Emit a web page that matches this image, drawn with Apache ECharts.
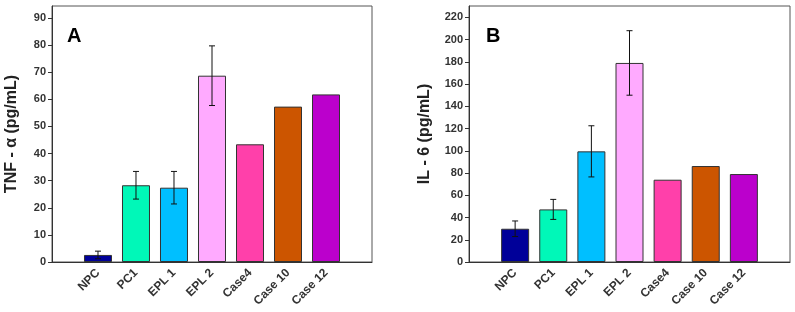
<!DOCTYPE html>
<html>
<head>
<meta charset="utf-8">
<script src="https://cdn.jsdelivr.net/npm/echarts@6/dist/echarts.min.js"></script>
<style>
  html, body { margin: 0; padding: 0; background: #fff; }
  #main { width: 795px; height: 312px; }
</style>
</head>
<body>
<div id="main"></div>
<script>
var categories = ['NPC', 'PC1', 'EPL 1', 'EPL 2', 'Case4', 'Case 10', 'Case 12'];
var barColors = ['#000099', '#00F8B8', '#00BFFF', '#FFAAFF', '#FF40AA', '#CC5500', '#BB00CC'];

// panel A : TNF-alpha
var tnfValues = [2.6, 28.3, 27.4, 68.7, 43.4, 57.3, 61.8];
var tnfErrors = [1.4, 5.1, 6.0, 11.0, null, null, null];
var tnfTicks = [0, 10, 20, 30, 40, 50, 60, 70, 80, 90];

// panel B : IL-6
var il6Values = [29.9, 47.3, 99.5, 179, 74, 86.3, 79.1];
var il6Errors = [7, 9, 23, 29, null, null, null];
var il6Ticks = [0, 20, 40, 60, 80, 100, 120, 140, 160, 180, 200, 220];

var idx = categories.map(function (c, i) { return i; });
var labelFont = { fontFamily: 'Arial, "Liberation Sans"', fontWeight: 'bold', color: '#333' };

function barData(vals) {
    return vals.map(function (v, i) {
        return { value: [i, v], itemStyle: { color: barColors[i] } };
    });
}
function errData(vals, errs) {
    var out = [];
    vals.forEach(function (v, i) {
        if (errs[i] != null) out.push([i, v, errs[i]]);
    });
    return out;
}
function renderErr(params, api) {
    var x = api.value(0), v = api.value(1), e = api.value(2);
    var hi = api.coord([x, v + e]);
    var lo = api.coord([x, v - e]);
    var cap = 3;
    var st = { stroke: '#111', lineWidth: 1 };
    return {
        type: 'group',
        children: [
            { type: 'line', shape: { x1: hi[0], y1: hi[1], x2: lo[0], y2: lo[1] }, style: st },
            { type: 'line', shape: { x1: hi[0] - cap, y1: hi[1], x2: hi[0] + cap, y2: hi[1] }, style: st },
            { type: 'line', shape: { x1: lo[0] - cap, y1: lo[1], x2: lo[0] + cap, y2: lo[1] }, style: st }
        ]
    };
}
function xAxisOf(gi) {
    return {
        type: 'value', gridIndex: gi, min: -1.21, max: 7.21,
        splitLine: { show: false },
        axisLine: { show: true, onZero: false, lineStyle: { color: '#333', width: 1 } },
        axisTick: { show: false },
        axisLabel: Object.assign({
            customValues: idx, rotate: 45, fontSize: 12, margin: 9,
            formatter: function (v) { return categories[Math.round(v)]; }
        }, labelFont)
    };
}
function yAxisOf(gi, max, ticks, name, gap) {
    return {
        type: 'value', gridIndex: gi, min: 0, max: max,
        name: name, nameLocation: 'middle', nameGap: gap,
        nameTextStyle: { fontFamily: 'Arial, "Liberation Sans"', fontWeight: 'bold', fontSize: 16, color: '#222' },
        splitLine: { show: false },
        axisLine: { show: true, onZero: false, lineStyle: { color: '#333', width: 1 } },
        axisTick: { show: true, customValues: ticks, length: 4, lineStyle: { color: '#333' } },
        axisLabel: Object.assign({ customValues: ticks, fontSize: 11, margin: 6 }, labelFont)
    };
}

var myChart = echarts.init(document.getElementById('main'));
var option = {
    animation: false,
    grid: [
        { left: 52, top: 6, width: 320, height: 256, show: true, borderColor: '#555', borderWidth: 1 },
        { left: 469, top: 6, width: 321, height: 256, show: true, borderColor: '#555', borderWidth: 1 }
    ],
    xAxis: [xAxisOf(0), xAxisOf(1)],
    yAxis: [
        yAxisOf(0, 94.4, tnfTicks, 'TNF - α (pg/mL)', 32),
        yAxisOf(1, 230.2, il6Ticks, 'IL - 6 (pg/mL)', 36)
    ],
    graphic: [
        { type: 'text', left: 67, top: 26, style: { text: 'A', font: 'bold 20px Arial, "Liberation Sans"', fill: '#000' } },
        { type: 'text', left: 486, top: 26, style: { text: 'B', font: 'bold 20px Arial, "Liberation Sans"', fill: '#000' } }
    ],
    series: [
        {
            type: 'bar', xAxisIndex: 0, yAxisIndex: 0, barWidth: 28,
            itemStyle: { borderColor: '#333', borderWidth: 1 },
            data: barData(tnfValues)
        },
        {
            type: 'custom', xAxisIndex: 0, yAxisIndex: 0, z: 5,
            renderItem: renderErr, data: errData(tnfValues, tnfErrors)
        },
        {
            type: 'bar', xAxisIndex: 1, yAxisIndex: 1, barWidth: 28,
            itemStyle: { borderColor: '#333', borderWidth: 1 },
            data: barData(il6Values)
        },
        {
            type: 'custom', xAxisIndex: 1, yAxisIndex: 1, z: 5,
            renderItem: renderErr, data: errData(il6Values, il6Errors)
        }
    ]
};
myChart.setOption(option, true);
window.onresize = myChart.resize;
</script>
</body>
</html>
